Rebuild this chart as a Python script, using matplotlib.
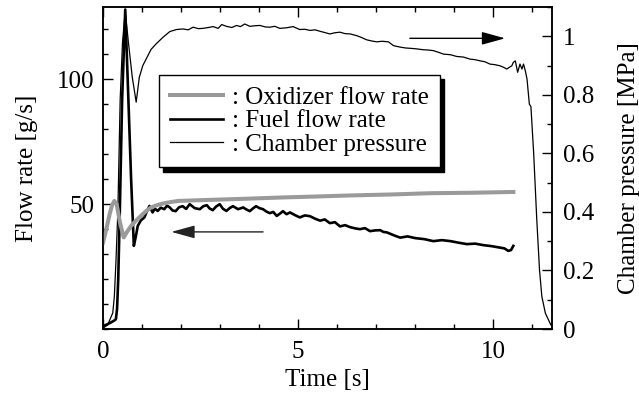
import matplotlib
matplotlib.use("Agg")
import matplotlib.pyplot as plt
from matplotlib.ticker import MultipleLocator
from matplotlib.lines import Line2D

plt.rcParams['font.family'] = ['Liberation Serif', 'DejaVu Serif']
plt.rcParams['font.size'] = 18

# Oxidizer flow rate [g/s]
ox_t = [0, 0.07, 0.17, 0.23, 0.29, 0.35, 0.43, 0.53, 0.61, 0.72, 0.85, 0.97, 1.10,
        1.23, 1.40, 1.57, 1.75, 1.92, 2.48, 3.5, 4.6, 5.5, 6.33, 7.4, 8.38, 9.5, 10.51]
ox_flow = [34.6, 39, 46, 49.5, 51.3, 50, 43, 36.7, 38.8, 41.3, 43.5, 45.3, 47.2,
           48.7, 49.7, 50.4, 50.9, 51.3, 51.6, 52.1, 52.7, 53.1, 53.5, 53.9, 54.4, 54.6, 54.9]

# Fuel flow rate [g/s]
fuel_t = [0, 0.1, 0.2, 0.28, 0.33, 0.36, 0.39, 0.43, 0.49, 0.57, 0.65, 0.72, 0.79, 0.84,
          0.89, 0.97, 1.06, 1.12, 1.19, 1.27, 1.33, 1.40, 1.48, 1.57, 1.64, 1.71, 1.78,
          1.86, 1.95, 2.04, 2.13, 2.22, 2.35, 2.48, 2.57, 2.66, 2.73, 2.81, 2.90, 2.99,
          3.07, 3.16, 3.25, 3.33, 3.46, 3.59, 3.67, 3.76, 3.84, 3.92, 4.01, 4.10, 4.18,
          4.27, 4.36, 4.45, 4.53, 4.61, 4.70, 4.79, 4.92, 5.04, 5.17, 5.30, 5.43, 5.56,
          5.68, 5.81, 5.94, 6.07, 6.20, 6.33, 6.46, 6.58, 6.71, 6.84, 6.97, 7.10, 7.18,
          7.27, 7.44, 7.61, 7.80, 8.00, 8.23, 8.46, 8.68, 8.90, 9.10, 9.32, 9.53, 9.74,
          9.95, 10.17, 10.28, 10.38, 10.45, 10.51]
fuel_flow = [1.2, 1.8, 2.6, 3.3, 3.9, 8, 20, 46.7, 92, 128, 92, 60, 33.3, 37,
             41.3, 43.5, 44.7, 47, 49.3, 46.7, 48.2, 47.3, 48.6, 48, 49.4, 48.7, 47.5,
             47.2, 48.8, 49.2, 48.1, 50, 48.4, 48, 49.2, 49.6, 48.3, 47.6, 49.1, 50,
             48.2, 47.3, 48.5, 49.2, 48.0, 48.7, 47.9, 47.2, 48.3, 49.2, 48.4, 48, 47.1,
             46.4, 46.9, 45.3, 46.2, 47.2, 46.0, 46.7, 45.6, 44.7, 45.5, 45.2, 44.2, 43.4,
             43.9, 42.4, 42.8, 41.1, 41.6, 40.8, 40.3, 40, 40.4, 39.2, 39.5, 39.6, 38.9,
             38.7, 37.6, 36.6, 37.1, 36.4, 36.0, 35.2, 35.6, 35.2, 34.6, 34.0, 34.2, 33.6,
             33.2, 32.6, 32.3, 31.3, 31.6, 33.3]

# Chamber pressure [MPa]
pc_t = [0, 0.12, 0.25, 0.29, 0.33, 0.38, 0.44, 0.50, 0.57, 0.65, 0.75, 0.85, 0.93,
        1.02, 1.15, 1.23, 1.36, 1.54, 1.71, 1.88, 2.05, 2.18, 2.31, 2.44, 2.56, 2.70,
        2.82, 2.95, 3.04, 3.16, 3.30, 3.42, 3.52, 3.63, 3.76, 3.90, 4.02, 4.15, 4.27,
        4.40, 4.53, 4.70, 4.87, 5.04, 5.17, 5.30, 5.43, 5.56, 5.70, 5.81, 5.94, 6.07,
        6.20, 6.33, 6.50, 6.62, 6.75, 6.88, 7.01, 7.15, 7.31, 7.44, 7.61, 7.75, 7.86,
        8.03, 8.20, 8.33, 8.46, 8.60, 8.72, 8.90, 9.06, 9.23, 9.40, 9.53, 9.66, 9.78,
        9.91, 10.04, 10.17, 10.26, 10.34, 10.42, 10.47, 10.51, 10.56, 10.62, 10.68,
        10.73, 10.77, 10.82, 10.86, 10.92, 10.96, 11.03, 11.11, 11.18, 11.24, 11.33,
        11.47, 11.5]
pc = [0.003, 0.014, 0.055, 0.11, 0.225, 0.40, 0.785, 0.98, 1.085, 0.98, 0.86, 0.775,
      0.86, 0.90, 0.934, 0.955, 0.974, 0.997, 1.016, 1.023, 1.025, 1.022, 1.031, 1.026,
      1.027, 1.030, 1.033, 1.027, 1.040, 1.034, 1.030, 1.037, 1.033, 1.042, 1.034, 1.036,
      1.037, 1.032, 1.031, 1.034, 1.027, 1.029, 1.033, 1.023, 1.024, 1.020, 1.022, 1.017,
      1.012, 1.008, 1.012, 1.014, 1.009, 1.008, 1.002, 0.996, 0.988, 0.984, 0.981, 0.983,
      0.981, 0.968, 0.963, 0.960, 0.959, 0.957, 0.954, 0.953, 0.951, 0.945, 0.939, 0.937,
      0.931, 0.929, 0.922, 0.920, 0.916, 0.913, 0.905, 0.903, 0.899, 0.894, 0.888, 0.895,
      0.899, 0.911, 0.916, 0.877, 0.905, 0.888, 0.905, 0.880, 0.854, 0.768, 0.76, 0.602,
      0.374, 0.202, 0.111, 0.054, 0.014, 0.012]

x_ticks = [0, 5, 10]
flow_ticks = [50, 100]
pc_ticks = [0, 0.2, 0.4, 0.6, 0.8, 1.0]
pc_ticklabels = ['0', '0.2', '0.4', '0.6', '0.8', '1']
legend_labels = [': Oxidizer flow rate', ': Fuel flow rate', ': Chamber pressure']

OX_COLOR = '#9a9a9a'

fig = plt.figure(figsize=(6.39, 4.01), dpi=100)
ax = fig.add_axes([103 / 639, 1 - 329 / 401, 449 / 639, 322 / 401])
ax2 = ax.twinx()
ax.set_zorder(ax2.get_zorder() + 1)
ax.patch.set_visible(False)

ax2.plot(pc_t, pc, color='black', lw=0.9)
ax.plot(fuel_t, fuel_flow, color='black', lw=1.9)
ax.plot(ox_t, ox_flow, color=OX_COLOR, lw=2.9)

ax.set_xlim(0, 11.5)
ax.set_ylim(0, 129)
ax2.set_ylim(0, 1.1)

ax.set_xticks(x_ticks)
ax.xaxis.set_minor_locator(MultipleLocator(1))
ax.set_yticks(flow_ticks)
ax.yaxis.set_minor_locator(MultipleLocator(10))
ax2.set_yticks(pc_ticks)
ax2.set_yticklabels(pc_ticklabels)
ax2.yaxis.set_minor_locator(MultipleLocator(0.1))

ax.tick_params(which='both', direction='in', top=True, right=False, width=1)
ax.tick_params(which='major', length=7)
ax.tick_params(which='minor', length=3.5)
ax.tick_params(axis='x', pad=9)
ax.tick_params(axis='y', pad=6)
ax2.tick_params(which='both', direction='in', width=1, pad=8)
ax2.tick_params(which='major', length=7)
ax2.tick_params(which='minor', length=3.5)
for a in (ax, ax2):
    for s in a.spines.values():
        s.set_linewidth(1.1)

ax.set_xlabel('Time [s]', labelpad=4)
ax.set_ylabel('Flow rate [g/s]', labelpad=14)
ax2.set_ylabel('Chamber pressure [MPa]', labelpad=17)

arrow_style = '-|>,head_length=0.8,head_width=0.22'
ax2.annotate('', xy=(10.3, 0.993), xytext=(7.86, 0.993),
             arrowprops=dict(arrowstyle=arrow_style, mutation_scale=18,
                             color='black', lw=1, shrinkA=0, shrinkB=0))
ax.annotate('', xy=(1.75, 38.9), xytext=(4.1, 38.9),
             arrowprops=dict(arrowstyle=arrow_style, mutation_scale=18,
                             color='#222222', lw=1, shrinkA=0, shrinkB=0))

handles = [Line2D([], [], color=OX_COLOR, lw=2.9),
           Line2D([], [], color='black', lw=1.9),
           Line2D([], [], color='black', lw=0.9)]
leg = ax.legend(handles, legend_labels, loc='upper left',
                bbox_to_anchor=(0.125, 0.789), borderaxespad=0,
                fancybox=False, edgecolor='black', framealpha=1,
                shadow={'ox': 3, 'oy': -3, 'facecolor': 'black',
                        'edgecolor': 'black', 'alpha': 1},
                handlelength=2.1, handletextpad=0.35, labelspacing=0.05,
                borderpad=0.45, fontsize=18)
leg.get_frame().set_linewidth(1.0)

fig.savefig('out.png', dpi=100)
